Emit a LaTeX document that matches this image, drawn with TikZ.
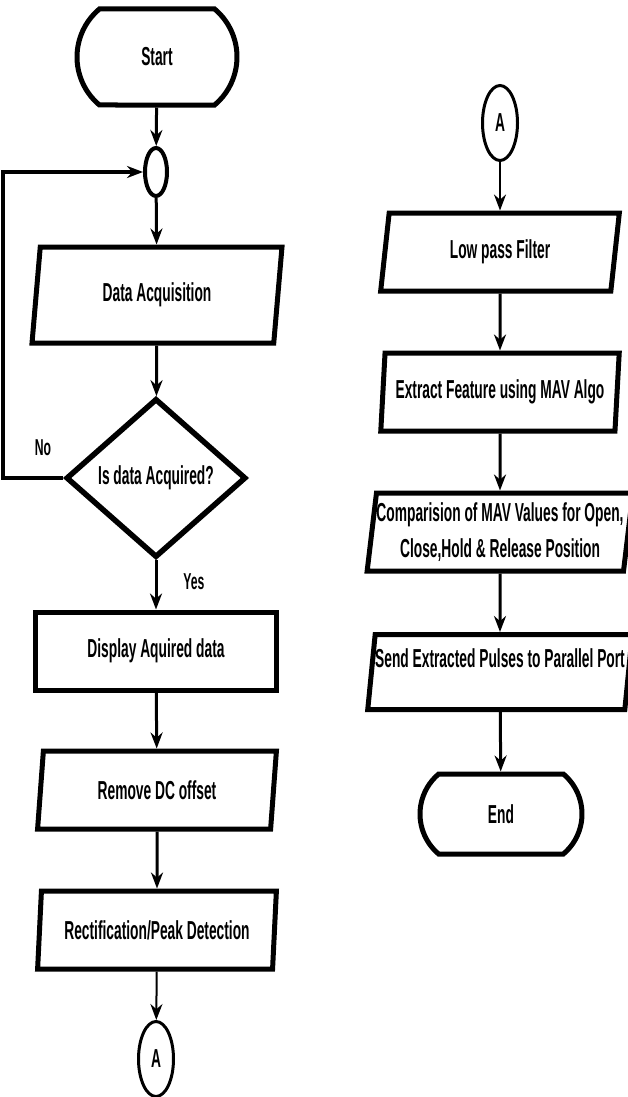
\documentclass[tikz,border=0pt]{standalone}
\usepackage{fontspec}
\setmainfont{Liberation Sans}[FakeStretch=0.53]
\usetikzlibrary{shapes.geometric,shapes.misc,arrows.meta}

\begin{document}
\begin{tikzpicture}[x=1pt,y=-1pt,>={Stealth[length=16pt,width=12pt]},line width=3pt,
  every node/.style={font=\bfseries\fontsize{26}{36}\selectfont,inner sep=0pt},
  term/.style={draw,line width=5pt,rounded rectangle,rounded rectangle arc length=100,minimum width=160pt,minimum height=96pt},
  io/.style={draw,line width=5pt,trapezium,trapezium left angle=81,trapezium right angle=99,trapezium stretches,minimum width=239pt,minimum height=78pt},
  proc/.style={draw,line width=5pt,rectangle,minimum width=241pt,minimum height=78pt},
  decision/.style={draw,line width=5.5pt,diamond,aspect=1.13,minimum width=180pt,minimum height=159pt},
  conn/.style={draw,line width=3pt,ellipse,minimum width=35pt,minimum height=75pt},
  lbl/.style={font=\bfseries\fontsize{23}{26}\selectfont}]
\useasboundingbox (0,0) rectangle (628,1097);
% left column
\node[term] (start) at (157,57) {Start};
\node[draw,line width=4pt,ellipse,minimum width=22pt,minimum height=48pt] (junc) at (156,172) {};
\node[io,minimum width=250pt,minimum height=96pt] (acq) at (157,295) {Data Acquisition};
\node[decision] (dec) at (156,478) {Is data Acquired?};
\node[proc] (disp) at (156,651) {Display Aquired data};
\node[io] (dc) at (157,790) {Remove DC offset};
\node[io] (rect) at (157,930) {Rectification/Peak Detection};
\node[conn] (conA) at (156,1059) {A};
\node[lbl] (no) at (43,448) {No};
\node[lbl] (yes) at (194,582) {Yes};
\draw[->] (start) -- (junc);
\draw[->] (junc) -- (acq);
\draw[->] (acq) -- (dec);
\draw[->,line width=4pt] (dec.west) -- ++(-60,0) |- (junc.west);
\draw[->] (dec) -- (disp);
\draw[->] (disp) -- (dc);
\draw[->] (dc) -- (rect);
\draw[->,line width=2pt] (rect) -- (conA);
% right column
\node[conn] (conB) at (500,123) {A};
\node[io] (lpf) at (500,252) {Low pass Filter};
\node[io] (feat) at (500,392) {Extract Feature using MAV Algo};
\node[io,minimum width=258pt,align=center] (comp) at (500,532) {Comparision of MAV Values for Open,\\Close,Hold \& Release Position};
\node[io,minimum width=258pt,minimum height=75pt,text depth=28pt] (send) at (500,672) {Send Extracted Pulses to Parallel Port};
\node[term,minimum width=162pt,minimum height=80pt] (endn) at (501,814) {End};
\draw[->,line width=2pt] (conB) -- (lpf);
\draw[->] (lpf) -- (feat);
\draw[->] (feat) -- (comp);
\draw[->] (comp) -- (send);
\draw[->] (send) -- (endn);
\end{tikzpicture}
\end{document}
